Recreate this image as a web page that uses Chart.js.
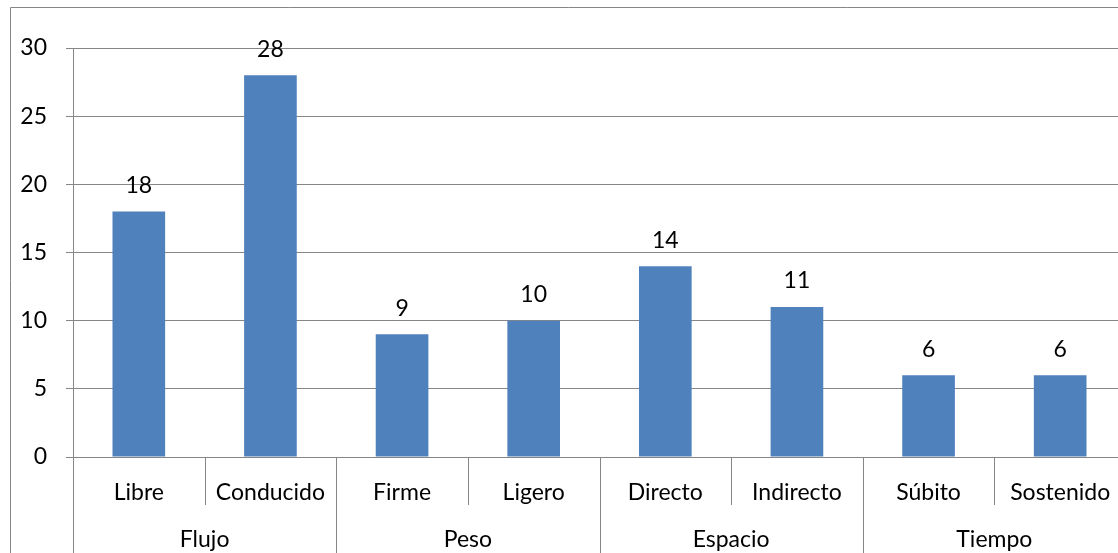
<!DOCTYPE html>
<html>
<head>
<meta charset="utf-8">
<script src="https://cdn.jsdelivr.net/npm/chart.js@4"></script>
<style>
    html, body { margin: 0; padding: 0; background: #fff; overflow: hidden; }
    #wrap { width: 1126px; height: 553px; position: relative; }
</style>
</head>
<body>
<div id="wrap"><canvas id="chart"></canvas></div>
<script>
const subCategories = ['Libre', 'Conducido', 'Firme', 'Ligero', 'Directo', 'Indirecto', 'Súbito', 'Sostenido'];
const groups = ['Flujo', 'Peso', 'Espacio', 'Tiempo'];
const groupSize = [2, 2, 2, 2];
const values = [18, 28, 9, 10, 14, 11, 6, 6];
const yTicks = [0, 5, 10, 15, 20, 25, 30];

const FONT = 'Lato, "Open Sans", sans-serif';
const FONT_SIZE = 23;
const GRID = '#868686';

const excelAxis = {
    id: 'excelAxis',
    afterDraw(chart) {
        const { ctx, chartArea, scales } = chart;
        const x = scales.x;
        const half = (x.getPixelForValue(1) - x.getPixelForValue(0)) / 2;
        const bottom = chart.height;
        ctx.save();
        ctx.strokeStyle = GRID;
        ctx.lineWidth = 1;

        // outer chart border (left + top)
        ctx.beginPath();
        ctx.moveTo(10.5, bottom);
        ctx.lineTo(10.5, 7.5);
        ctx.lineTo(chart.width, 7.5);
        ctx.stroke();

        // y axis continues down through the label rows
        ctx.beginPath();
        ctx.moveTo(Math.round(chartArea.left) + 0.5, chartArea.bottom);
        ctx.lineTo(Math.round(chartArea.left) + 0.5, bottom);
        ctx.stroke();

        // separators between categories / groups
        let idx = 0;
        const groupEnds = new Set();
        groupSize.forEach(n => { idx += n; groupEnds.add(idx); });
        for (let i = 1; i < subCategories.length; i++) {
            const px = Math.round(x.getPixelForValue(i) - half) + 0.5;
            ctx.beginPath();
            ctx.moveTo(px, chartArea.bottom);
            ctx.lineTo(px, groupEnds.has(i) ? bottom : chartArea.bottom + 48);
            ctx.stroke();
        }

        // group labels
        ctx.fillStyle = '#000';
        ctx.font = FONT_SIZE + 'px ' + FONT;
        ctx.textAlign = 'center';
        ctx.textBaseline = 'middle';
        let start = 0;
        groups.forEach((g, gi) => {
            const end = start + groupSize[gi] - 1;
            const cx = (x.getPixelForValue(start) + x.getPixelForValue(end)) / 2;
            ctx.fillText(g, cx, 540);
            start += groupSize[gi];
        });

        // value labels above bars
        const meta = chart.getDatasetMeta(0);
        meta.data.forEach((bar, i) => {
            ctx.fillText(String(values[i]), bar.x, bar.y - 26);
        });
        ctx.restore();
    }
};

new Chart(document.getElementById('chart'), {
    type: 'bar',
    data: {
        labels: subCategories,
        datasets: [{
            data: values,
            backgroundColor: '#4F81BD',
            barPercentage: 0.4,
            categoryPercentage: 1.0
        }]
    },
    options: {
        responsive: true,
        maintainAspectRatio: false,
        animation: false,
        layout: { padding: { top: 48, left: 0, right: 0, bottom: 0 } },
        plugins: {
            legend: { display: false },
            tooltip: { enabled: false }
        },
        scales: {
            x: {
                offset: true,
                afterFit: axis => { axis.height = 96; },
                grid: { display: false },
                border: { display: true, color: GRID },
                ticks: {
                    color: '#000',
                    font: { family: FONT, size: FONT_SIZE },
                    padding: 14,
                    maxRotation: 0,
                    autoSkip: false
                }
            },
            y: {
                min: 0,
                max: 30,
                afterBuildTicks: axis => { axis.ticks = yTicks.map(v => ({ value: v })); },
                afterFit: axis => { axis.width = 73; },
                grid: { color: GRID, tickLength: 7 },
                border: { display: true, color: GRID },
                ticks: {
                    color: '#000',
                    font: { family: FONT, size: FONT_SIZE },
                    padding: 19
                }
            }
        }
    },
    plugins: [excelAxis]
});
</script>
</body>
</html>
